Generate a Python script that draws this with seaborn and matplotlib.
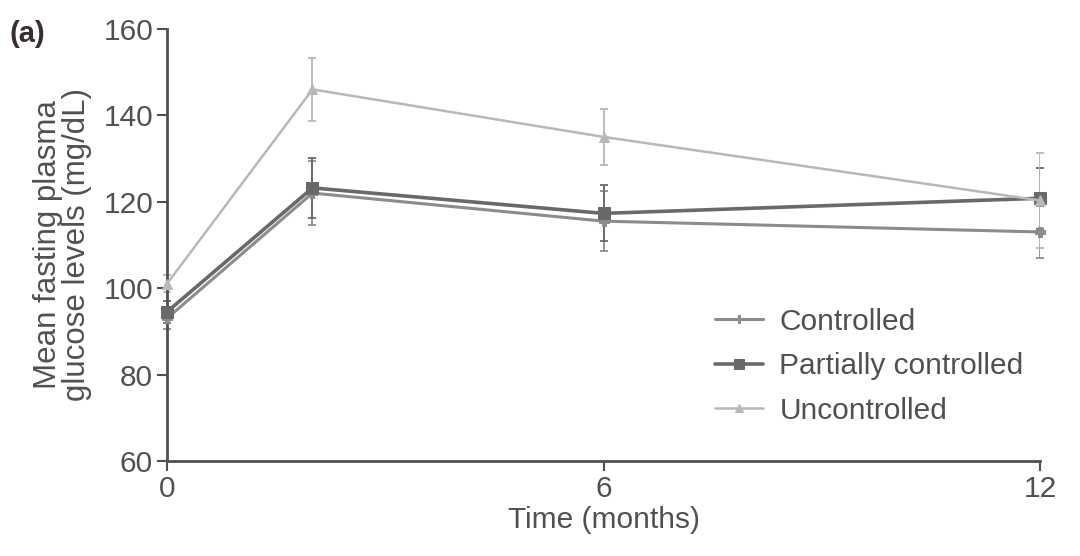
import numpy as np
import pandas as pd
import seaborn as sns
import matplotlib
matplotlib.use("Agg")
import matplotlib.pyplot as plt

months = [0, 2, 6, 12]
groups = ["Controlled", "Partially controlled", "Uncontrolled"]
controlled = [93, 122, 115.5, 113]
controlled_err = [2.5, 7.5, 7, 6]
partial = [94.5, 123.2, 117.3, 120.8]
partial_err = [2.5, 7, 6.5, 7]
uncontrolled = [101, 146, 135, 120.3]
uncontrolled_err = [2, 7.3, 6.5, 11]
x_ticks = [0, 6, 12]
y_ticks = [60, 80, 100, 120, 140, 160]

colors = {"Controlled": "#8c8c8c", "Partially controlled": "#696969", "Uncontrolled": "#b8b8b8"}
markers = {"Controlled": "P", "Partially controlled": "s", "Uncontrolled": "^"}
widths = {"Controlled": 2.2, "Partially controlled": 2.6, "Uncontrolled": 1.8}
msizes = {"Controlled": 7, "Partially controlled": 8, "Uncontrolled": 7}

sns.set_style("white")
plt.rcParams["font.family"] = ["Liberation Sans", "DejaVu Sans"]

vals = {"Controlled": controlled, "Partially controlled": partial, "Uncontrolled": uncontrolled}
errs = {"Controlled": controlled_err, "Partially controlled": partial_err, "Uncontrolled": uncontrolled_err}
df = pd.DataFrame({
    "month": months * 3,
    "value": controlled + partial + uncontrolled,
    "group": sum([[g] * len(months) for g in groups], []),
})

fig = plt.figure(figsize=(10.8, 5.56), dpi=100)
ax = fig.add_axes([0.1546, 0.171, 0.8084, 0.777])

for g in groups:
    ax.errorbar(months, vals[g], yerr=errs[g], fmt="none", ecolor=colors[g],
                elinewidth=1.3, capsize=3, capthick=1.3, zorder=2)
    sub = df[df["group"] == g]
    sns.lineplot(data=sub, x="month", y="value", ax=ax, color=colors[g],
                 marker=markers[g], markersize=msizes[g], linewidth=widths[g],
                 markeredgecolor=colors[g], label=g, zorder=3)

ax.set_xlim(0, 12)
ax.set_ylim(60, 160)
ax.set_xticks(x_ticks)
ax.set_yticks(y_ticks)
for s in ["top", "right"]:
    ax.spines[s].set_visible(False)
for s in ["left", "bottom"]:
    ax.spines[s].set_color("#505050")
    ax.spines[s].set_linewidth(2)
ax.tick_params(axis="both", direction="out", length=7, width=1.5, color="#505050",
               labelsize=21.5, labelcolor="#505050", pad=3, left=True, bottom=True)
ax.set_xlabel("Time (months)", fontsize=21.5, color="#505050", labelpad=2)
ax.set_ylabel("Mean fasting plasma\nglucose levels (mg/dL)", fontsize=22.5, color="#505050",
              labelpad=8, linespacing=0.95)

leg = ax.legend(loc="lower right", bbox_to_anchor=(1.012, 0.022), frameon=False, fontsize=21.5,
                handlelength=1.6, handletextpad=0.55, labelspacing=0.55, labelcolor="#505050",
                markerscale=0.85)

fig.text(0.009, 0.925, "(a)", fontsize=21, fontweight="bold", color="#3a2e2e")
for l in ax.lines:
    l.set_clip_on(False)

fig.savefig("out.png", dpi=100)
